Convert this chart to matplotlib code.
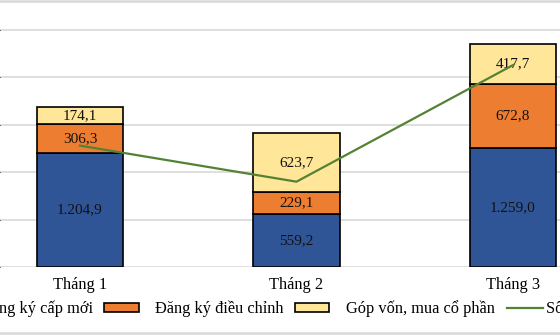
import matplotlib
matplotlib.use("Agg")
import matplotlib.pyplot as plt
from matplotlib.lines import Line2D

plt.rcParams['font.family'] = ['Liberation Serif', 'DejaVu Serif']

months = ["Tháng 1", "Tháng 2", "Tháng 3"]
new_reg = [1204.9, 559.2, 1259.0]
adjusted = [306.3, 229.1, 672.8]
capital = [174.1, 623.7, 417.7]
projects = [128, 90, 213]

series_labels = ["Đăng ký cấp mới", "Đăng ký điều chỉnh",
                 "Góp vốn, mua cổ phần", "Số dự án cấp mới"]
colors = ["#2F5597", "#ED7D31", "#FFE699"]
line_color = "#548235"


def vn(v):
    s = f"{v:,.1f}"
    return s.replace(",", "X").replace(".", ",").replace("X", ".")


W, H = 560, 336
fig = plt.figure(figsize=(W / 100, H / 100), dpi=100)
ax = fig.add_axes([0, (H - 267) / H, 1, 267 / H])

x = list(range(len(months)))
width = 0.4
bottoms = [0.0] * len(x)
handles = []
for vals, col in zip([new_reg, adjusted, capital], colors):
    bars = ax.bar(x, vals, width, bottom=bottoms, color=col,
                  edgecolor="black", linewidth=1.2, zorder=3)
    handles.append(bars)
    for xi, b, v in zip(x, bottoms, vals):
        ax.text(xi, b + v / 2, vn(v), ha="center", va="center",
                fontsize=11, color="#111111", zorder=6)
    bottoms = [b + v for b, v in zip(bottoms, vals)]

scale = 47.4 / 500
ax.set_ylim(0, 267 / scale)
px_per_unit = 216.5
xmin = -80 / px_per_unit
ax.set_xlim(xmin, xmin + W / px_per_unit)
ax.set_yticks([0, 500, 1000, 1500, 2000, 2500])
ax.yaxis.grid(True, color="#d9d9d9", linewidth=1.2, zorder=0)
ax.tick_params(axis="y", left=False, labelleft=False)
ax.tick_params(axis="x", length=0, pad=7, labelsize=11.8)
ax.set_xticks(x)
ax.set_xticklabels(months)
for s in ax.spines.values():
    s.set_visible(False)

ax2 = ax.twinx()
ax2.set_ylim(0, 267 / 47.4 * 50)
ln, = ax2.plot(x, projects, color=line_color, linewidth=1.6, zorder=5)
ax2.set_axis_off()

# bar series legend
leg_y = 1 - 309 / H
fig.legend(handles, series_labels[:3], ncol=3,
           loc="center left", bbox_to_anchor=(-71 / W, leg_y),
           frameon=False, fontsize=11.8, handlelength=2.13,
           handleheight=0.45, handletextpad=1.0, columnspacing=0.65,
           borderpad=0, borderaxespad=0)
# line series legend, with a tighter gap between line and text
fig.legend([ln], series_labels[3:], loc="center left",
           bbox_to_anchor=(507 / W, leg_y), frameon=False, fontsize=11.8,
           handlelength=2.2, handletextpad=0.15, borderpad=0,
           borderaxespad=0)

for yy in (1, 333):
    fig.add_artist(Line2D([0, 1], [1 - yy / H, 1 - yy / H],
                          transform=fig.transFigure, color="#d9d9d9",
                          linewidth=1.8))

fig.savefig("out.png", dpi=100)
